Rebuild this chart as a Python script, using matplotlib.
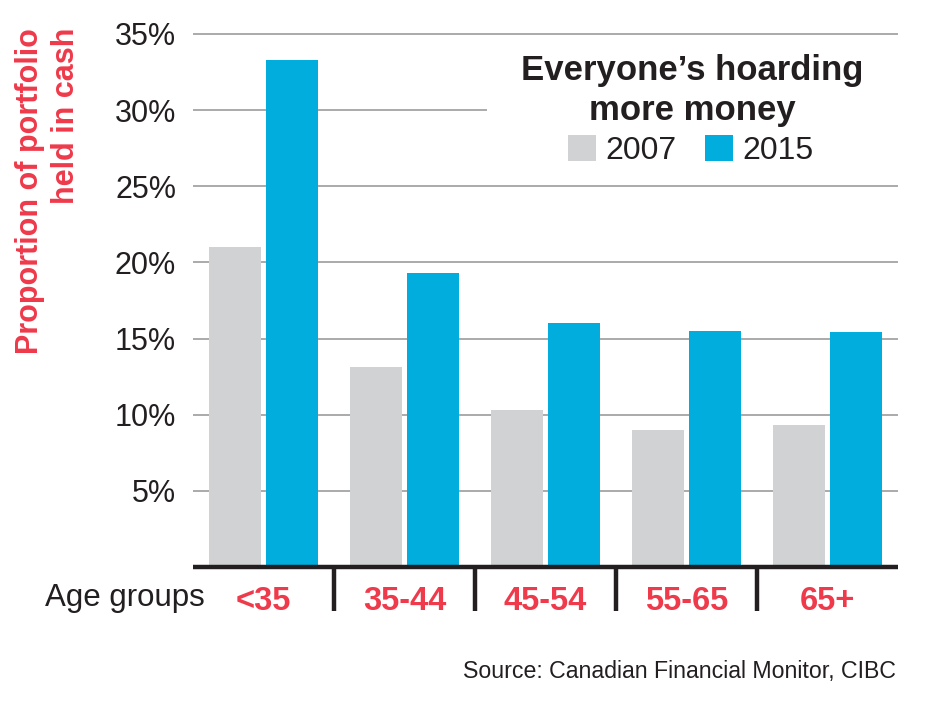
import matplotlib
matplotlib.use("Agg")
import matplotlib.pyplot as plt
from matplotlib.patches import Rectangle
import numpy as np

# ---- data ----
categories = ["<35", "35-44", "45-54", "55-65", "65+"]
series_names = ["2007", "2015"]
values_2007 = [21.0, 13.1, 10.3, 9.0, 9.3]
values_2015 = [33.3, 19.3, 16.0, 15.5, 15.4]
ytick_values = [5, 10, 15, 20, 25, 30, 35]
ytick_labels = ["5%", "10%", "15%", "20%", "25%", "30%", "35%"]

RED = "#EE3A4B"
GREY = "#D1D2D4"
BLUE = "#00ADDC"
DARK = "#231F20"
GRID = "#939393"

plt.rcParams['font.family'] = ['Liberation Sans', 'DejaVu Sans']

W, H = 927, 704
fig = plt.figure(figsize=(W / 100, H / 100), dpi=100)

px_per_unit = 15.23
y0_px = 567
ytop = 35.1
ax_left, ax_right = 193, 898
ax_top_px = y0_px - px_per_unit * ytop
ax = fig.add_axes([ax_left / W, 1 - y0_px / H, (ax_right - ax_left) / W, (y0_px - ax_top_px) / H])

x = np.arange(len(categories))
bw = 0.369
off = 0.199
b1 = ax.bar(x - off, values_2007, bw, color=GREY, zorder=2, label=series_names[0])
b2 = ax.bar(x + off, values_2015, bw, color=BLUE, zorder=2, label=series_names[1])

ax.set_xlim(-0.5, len(categories) - 0.5)
ax.set_ylim(0, ytop)

# grid
ax.set_axisbelow(True)
ax.yaxis.grid(True, color=GRID, linewidth=1.1)
ax.xaxis.grid(False)

# white box behind title
ax.add_patch(Rectangle((0.417, 27.0), 0.6, 6.5, transform=ax.get_yaxis_transform(),
                       facecolor="white", edgecolor="none", zorder=1))

# spines
for s in ["left", "right", "top"]:
    ax.spines[s].set_visible(False)
ax.spines["bottom"].set_color(DARK)
ax.spines["bottom"].set_linewidth(3.2)
ax.spines["bottom"].set_capstyle("butt")
ax.spines["bottom"].set_zorder(3)

# y ticks
ax.set_yticks(ytick_values)
ax.set_yticklabels(ytick_labels, fontsize=22, color=DARK)
ax.tick_params(axis="y", length=0, pad=12.2)

# x ticks
ax.set_xticks(x)
ax.set_xticklabels(categories, fontsize=23.5, fontweight="bold", color=RED)
ax.tick_params(axis="x", which="major", length=0, pad=14.0)
ax.set_xticks(x[:-1] + 0.5, minor=True)
ax.tick_params(axis="x", which="minor", length=31.8, width=3.2, color=DARK, direction="out")

# legend
leg = ax.legend(handles=[b1, b2], labels=series_names, loc="center",
                bbox_to_anchor=(691 / W, 1 - 150.5 / H), bbox_transform=fig.transFigure,
                ncol=2, frameon=False, fontsize=23, handlelength=0.88, handleheight=0.88,
                handletextpad=0.3, columnspacing=0.88, borderpad=0, borderaxespad=0)
for t in leg.get_texts():
    t.set_color(DARK)

# title
fig.text(692 / W, 1 - 80 / H, "Everyone\u2019s hoarding", ha="center", va="baseline",
         fontsize=25, fontweight="bold", color=DARK)
fig.text(692 / W, 1 - 120 / H, "more money", ha="center", va="baseline",
         fontsize=25, fontweight="bold", color=DARK)

# y label
fig.text(15 / W, 1 - 28 / H, "Proportion of portfolio\nheld in cash", rotation=90,
         ha="left", va="top", multialignment="right", fontsize=22, fontweight="bold",
         color=RED, linespacing=1.25)

# x axis caption
fig.text(205 / W, 1 - 606 / H, "Age groups", ha="right", va="baseline", fontsize=22.5, color=DARK)

# source
fig.text(896 / W, 1 - 678 / H, "Source: Canadian Financial Monitor, CIBC", ha="right",
         va="baseline", fontsize=16.7, color=DARK)

fig.savefig("out.png", dpi=100, facecolor="white")
